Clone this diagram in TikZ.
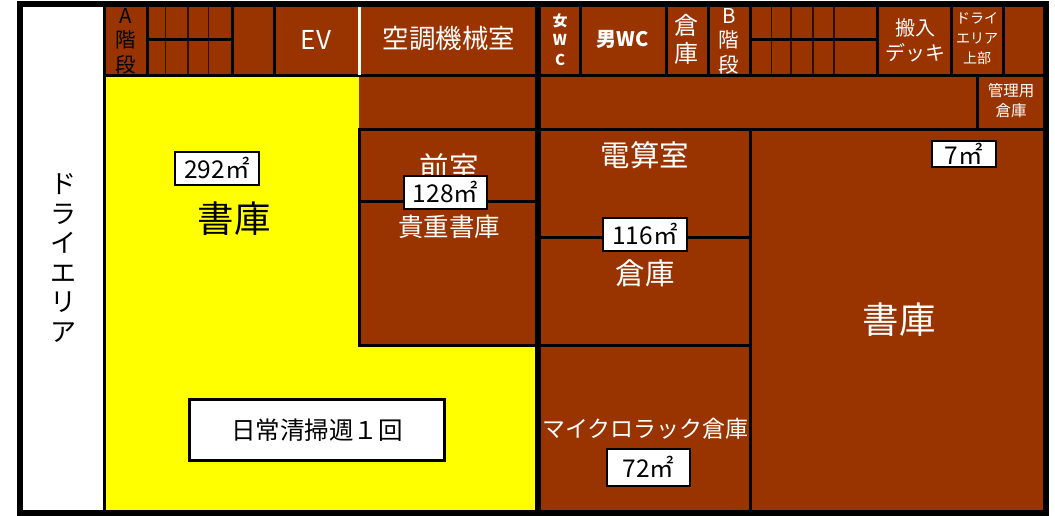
\documentclass[tikz,border=0pt]{standalone}
\usepackage{fontspec}
\setmainfont{Noto Sans CJK JP}
\definecolor{roombrown}{RGB}{153,51,0}
\definecolor{floorlemon}{RGB}{255,255,0}
\tikzset{
  wall/.style={draw=black, line width=3pt},
  thickwall/.style={draw=black, line width=6pt},
  stairline/.style={draw=black!70!roombrown, line width=1.2pt},
  lbl/.style 2 args={font=\fontsize{#1}{#2}\selectfont, text=white, align=center, inner sep=0pt},
  blbl/.style 2 args={lbl={#1}{#2}, text=black},
  areabox/.style={draw=black, line width=2pt, fill=white, text=black, inner sep=0pt,
    font=\fontsize{24.5}{24.5}\selectfont, minimum height=33pt},
}
\begin{document}
\begin{tikzpicture}[x=1pt, y=-1pt]
    \useasboundingbox (0,0) rectangle (1055,515);
    % floor fills
    \fill[white] (20,4) rectangle (104,513);
    \fill[roombrown] (104,4) rectangle (1046,513);
    \fill[floorlemon] (104,75) rectangle (537,513);
    \fill[roombrown] (359,75) rectangle (537,345);
    % top row
    \draw[wall] (104,75) -- (1046,75);
    \draw[wall] (147,4) -- (147,75);
    \draw[wall] (232,4) -- (232,75);
    \draw[wall] (274,4) -- (274,75);
    \draw[draw=white, line width=3pt] (359,7) -- (359,75);
    \draw[wall] (580,4) -- (580,75);
    \draw[wall] (666,4) -- (666,75);
    \draw[wall] (708,4) -- (708,75);
    \draw[wall] (750,4) -- (750,75);
    \draw[wall] (877,4) -- (877,75);
    \draw[wall] (951,4) -- (951,75);
    \draw[wall] (1003,4) -- (1003,75);
    \foreach \stairx in {165.5,188,208.5,771.5,791,813,834}
      \draw[stairline] (\stairx,7) -- (\stairx,74);
    \draw[wall] (147,39) -- (232,39);
    \draw[wall] (750,39) -- (879,39);
    % second row
    \draw[wall] (359,129) -- (1046,129);
    \draw[wall] (977,75) -- (977,129);
    % rooms
    \draw[wall] (359,129) rectangle (537,345);
    \draw[wall] (359,201) -- (537,201);
    \draw[wall] (537,237) -- (750,237);
    \draw[wall] (537,345) -- (750,345);
    \draw[wall] (750,129) -- (750,513);
    \draw[thickwall] (537.5,4) -- (537.5,513);
    \draw[wall] (104,4) -- (104,513);
    % outer frame
    \draw[draw=black, line width=6pt] (20,4) rectangle (1046,513);
    % labels
    \node (dryarea) [blbl={26}{29.5}] at (63,258) {ド\\ラ\\イ\\エ\\リ\\ア};
    \node (stairA) [blbl={20.5}{24.5}] at (126,41) {A\\階\\段};
    \node (ev) [lbl={26}{26}] at (316,40) {EV};
    \node (machine) [lbl={26.5}{26.5}] at (449,39) {空調機械室};
    \node (femalewc) [lbl={15}{19.5}, font=\fontsize{15}{19.5}\selectfont\bfseries] at (560,39.5) {女\\W\\C};
    \node (malewc) [lbl={20}{20}, font=\fontsize{20}{20}\selectfont\bfseries] at (623,39) {男WC};
    \node (storetop) [lbl={24}{28}] at (686,39) {倉\\庫};
    \node (stairB) [lbl={20.5}{24.5}] at (729,41) {B\\階\\段};
    \node (deck) [lbl={20}{25}] at (915,40) {搬入\\デッキ};
    \node (dryupper) [lbl={14}{20}] at (977,38.5) {ドライ\\エリア\\上部};
    \node (mgmt) [lbl={15.5}{20}] at (1011,101) {管理用\\倉庫};
    \node (libmain) [blbl={36.5}{36.5}] at (234,219) {書庫};
    \node (anteroom) [lbl={29.5}{29.5}] at (449,167) {前室};
    \node (vault) [lbl={25.5}{25.5}] at (449,227) {貴重書庫};
    \node (computer) [lbl={29.5}{29.5}] at (645,155) {電算室};
    \node (storemid) [lbl={29.5}{29.5}] at (645,273) {倉庫};
    \node (libright) [lbl={36.5}{36.5}] at (899,320) {書庫};
    \node (microrack) [lbl={23}{23}] at (645.5,429) {マイクロラック倉庫};
    % area boxes
    \node (areaA) [areabox, minimum width=84pt] at (217,168) {292㎡};
    \node (areaB) [areabox, minimum width=83pt] at (445.5,192) {128㎡};
    \node (areaC) [areabox, minimum width=84pt] at (645,234) {116㎡};
    \node (areaD) [areabox, minimum width=64pt, minimum height=26pt] at (964,154) {7㎡};
    \node (areaE) [areabox, minimum width=83pt, minimum height=37pt] at (648.5,467) {72㎡};
    \node (cleaning) [areabox, line width=3pt, minimum width=255pt, minimum height=61pt] at (317,430) {日常清掃週１回};
\end{tikzpicture}
\end{document}
